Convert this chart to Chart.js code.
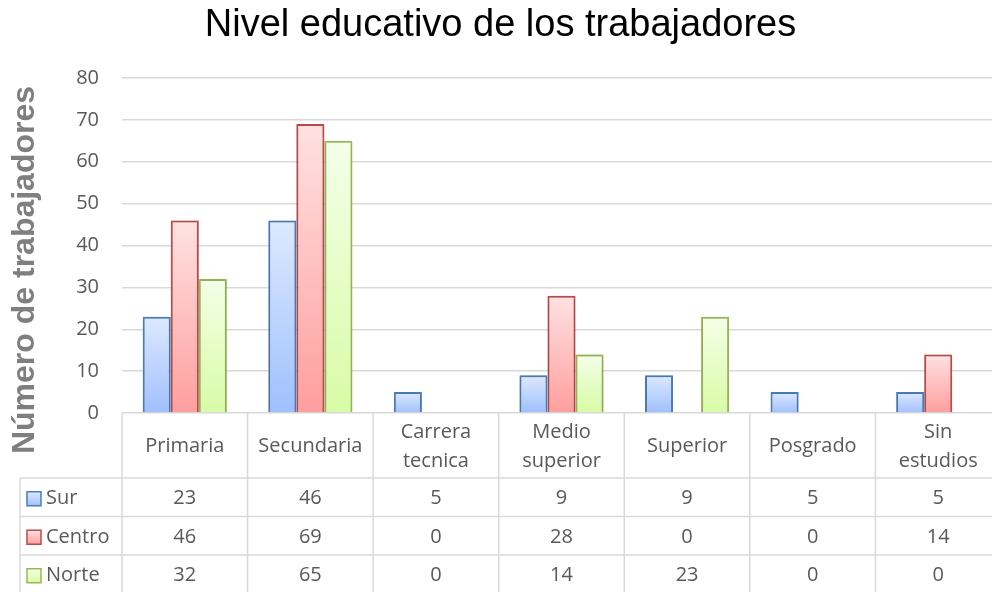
<!DOCTYPE html>
<html>
<head>
<meta charset="utf-8">
<script src="https://cdn.jsdelivr.net/npm/chart.js@4"></script>
<style>
  html, body { margin: 0; padding: 0; background: #fff; overflow: hidden; }
  #wrap { width: 1010px; height: 592px; position: relative; }
</style>
</head>
<body>
<div id="wrap"><canvas id="nivelChart"></canvas></div>
<script>
// data
const categories = [["Primaria"], ["Secundaria"], ["Carrera", "tecnica"], ["Medio", "superior"], ["Superior"], ["Posgrado"], ["Sin", "estudios"]];
const seriesNames = ["Sur", "Centro", "Norte"];
const sur = [23, 46, 5, 9, 9, 5, 5];
const centro = [46, 69, 0, 28, 0, 0, 14];
const norte = [32, 65, 0, 14, 23, 0, 0];
const yTicks = [0, 10, 20, 30, 40, 50, 60, 70, 80];

const styles = [
  { border: "#4a7ebb", top: "#dde9ff", bottom: "#9fc0fd" },
  { border: "#be4b48", top: "#ffe2e2", bottom: "#ff9e9e" },
  { border: "#98b954", top: "#f4ffe8", bottom: "#d8fba6" }
];

const textColor = "#595959";
const lineColor = "#d9d9d9";
const tableFont = "20px 'Open Sans'";

function barGradient(st) {
  return ctx => {
    const chart = ctx.chart;
    if (!chart.chartArea || ctx.type !== "data") return st.bottom;
    const y = chart.scales.y;
    const y0 = y.getPixelForValue(0);
    const y1 = y.getPixelForValue(ctx.raw);
    if (Math.abs(y0 - y1) < 1) return st.bottom;
    const g = chart.ctx.createLinearGradient(0, y1, 0, y0);
    g.addColorStop(0, st.top);
    g.addColorStop(1, st.bottom);
    return g;
  };
}

/* =========================
   BAR SHADOW
========================= */
const shadowPlugin = {
  id: "barShadow",
  beforeDatasetsDraw(chart) {
    const c = chart.ctx;
    c.save();
    c.shadowColor = "rgba(0,0,0,0.22)";
    c.shadowBlur = 3;
    c.shadowOffsetX = 0;
    c.shadowOffsetY = 0;
  },
  afterDatasetsDraw(chart) {
    chart.ctx.restore();
  }
};

/* =========================
   Y TITLE + DATA TABLE
========================= */
const tablePlugin = {
  id: "dataTable",
  afterDraw(chart) {
    const c = chart.ctx;
    const x = chart.scales.x;
    const y = chart.scales.y;
    const area = chart.chartArea;
    const n = categories.length;
    const step = (area.right - area.left) / n;
    const top = y.getPixelForValue(0);
    const headBottom = top + 65;
    const rowH = 38.5;
    const tableLeft = 20;
    const rows = [sur, centro, norte];
    const bottom = headBottom + rowH * rows.length;

    c.save();
    c.strokeStyle = lineColor;
    c.lineWidth = 1.5;
    c.beginPath();
    for (let r = 0; r <= rows.length; r++) {
      const yy = headBottom + r * rowH;
      c.moveTo(tableLeft, yy);
      c.lineTo(area.right, yy);
    }
    c.moveTo(tableLeft, headBottom);
    c.lineTo(tableLeft, bottom);
    for (let i = 0; i <= n; i++) {
      const bx = x.getPixelForValue(Math.min(i, n - 1)) + (i === n ? step / 2 : -step / 2);
      c.moveTo(bx, top);
      c.lineTo(bx, bottom);
    }
    c.stroke();

    // header labels
    c.fillStyle = textColor;
    c.font = tableFont;
    c.textAlign = "center";
    c.textBaseline = "middle";
    const headMid = (top + headBottom) / 2 + 1;
    categories.forEach((lab, i) => {
      const cx = x.getPixelForValue(i);
      if (lab.length === 1) {
        c.fillText(lab[0], cx, headMid);
      } else {
        c.fillText(lab[0], cx, headMid - 14.5);
        c.fillText(lab[1], cx, headMid + 15);
      }
    });

    // rows
    rows.forEach((vals, r) => {
      const cy = headBottom + r * rowH + rowH / 2 + 1.5;
      const st = styles[r];
      const g = c.createLinearGradient(0, cy - 7, 0, cy + 7);
      g.addColorStop(0, st.top);
      g.addColorStop(1, st.bottom);
      c.fillStyle = g;
      c.fillRect(27, cy - 7, 14, 14);
      c.strokeStyle = st.border;
      c.lineWidth = 1.5;
      c.strokeRect(27, cy - 7, 14, 14);
      c.fillStyle = textColor;
      c.textAlign = "left";
      c.fillText(seriesNames[r], 46, cy);
      c.textAlign = "center";
      vals.forEach((v, i) => c.fillText(String(v), x.getPixelForValue(i), cy));
    });

    // y axis title
    c.translate(34, 270);
    c.rotate(-Math.PI / 2);
    c.font = "bold 32px 'Liberation Sans'";
    c.fillStyle = "#7f7f7f";
    c.textAlign = "center";
    c.textBaseline = "alphabetic";
    c.fillText("Número de trabajadores", 0, 0);
    c.restore();
  }
};

const ctx = document.getElementById("nivelChart");

new Chart(ctx, {
  type: "bar",
  data: {
    labels: categories,
    datasets: [sur, centro, norte].map((d, i) => ({
      label: seriesNames[i],
      data: d,
      backgroundColor: barGradient(styles[i]),
      borderColor: styles[i].border,
      borderWidth: 2,
      categoryPercentage: 0.67,
      barPercentage: 1
    }))
  },
  options: {
    responsive: true,
    maintainAspectRatio: false,
    animation: false,
    layout: { padding: { top: 0, left: 0, right: 9, bottom: 179 } },
    plugins: {
      legend: { display: false },
      tooltip: { enabled: false },
      title: {
        display: true,
        text: "Nivel educativo de los trabajadores",
        color: "#000000",
        font: { family: "'Liberation Sans'", size: 38, weight: "normal", lineHeight: 1.2 },
        padding: { top: 3, bottom: 29.4 }
      }
    },
    scales: {
      x: {
        display: false
      },
      y: {
        min: 0,
        max: 80,
        afterFit: scale => { scale.width = 122; },
        afterBuildTicks: scale => { scale.ticks = yTicks.map(v => ({ value: v })); },
        border: { display: false },
        grid: { color: lineColor, lineWidth: 1.5, drawTicks: false },
        ticks: {
          color: textColor,
          padding: 23,
          font: { family: "'Open Sans'", size: 20 }
        }
      }
    }
  },
  plugins: [shadowPlugin, tablePlugin]
});
</script>
</body>
</html>
